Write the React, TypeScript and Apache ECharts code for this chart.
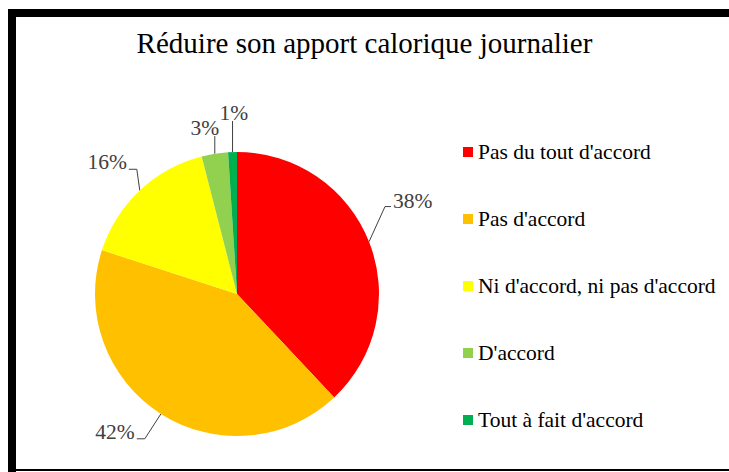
import React, { useEffect, useRef } from "react";
import * as echarts from "echarts";

const titleText = "Réduire son apport calorique journalier";
const categories = [
  "Pas du tout d'accord",
  "Pas d'accord",
  "Ni d'accord, ni pas d'accord",
  "D'accord",
  "Tout à fait d'accord",
];
const values = [38, 42, 16, 3, 1];
const colors = ["#FF0000", "#FFC000", "#FFFF00", "#92D050", "#00B050"];

// label placement style: polar angle (deg, clockwise from top) and distance from pie centre
const labelAngle = [62, 221.5, 315.4, 349, 359];
const labelDist = [199, 184, 185, 169, 181];
const labelVertical = [false, false, false, true, true];

const CX = 237;
const CY = 294;
const R = 142;

export default function App() {
  const ref = useRef<HTMLDivElement>(null);
  useEffect(() => {
    if (!ref.current) return;
    const chart = echarts.init(ref.current, null, { renderer: "svg" });
    const font = "'Liberation Serif', 'Times New Roman', serif";
    const total = values.reduce((a, b) => a + b, 0);
    const mids: number[] = [];
    let acc = 0;
    values.forEach((v) => {
      mids.push(((acc + v / 2) / total) * 2 * Math.PI);
      acc += v;
    });
    chart.setOption({
      animation: false,
      backgroundColor: "#ffffff",
      title: {
        text: titleText,
        left: "center",
        top: 23,
        textStyle: { fontFamily: font, fontSize: 29, fontWeight: "normal", color: "#000000" },
      },
      legend: {
        orient: "vertical",
        left: 458,
        top: 135,
        itemWidth: 10,
        itemHeight: 10,
        itemGap: 43,
        icon: "rect",
        data: categories,
        textStyle: { fontFamily: font, fontSize: 21.5, lineHeight: 24, color: "#000000" },
      },
      graphic: [
        { type: "rect", shape: { x: 8, y: 9, width: 721, height: 8 }, style: { fill: "#000000" } },
        { type: "rect", shape: { x: 8, y: 9, width: 8, height: 463 }, style: { fill: "#000000" } },
        { type: "rect", shape: { x: 16, y: 469, width: 713, height: 2 }, style: { fill: "#000000" } },
      ],
      series: [
        {
          type: "pie",
          center: [CX, CY],
          radius: [0, R],
          startAngle: 90,
          clockwise: true,
          avoidLabelOverlap: false,
          data: categories.map((c, i) => ({ name: c, value: values[i], itemStyle: { color: colors[i] } })),
          label: {
            show: true,
            position: "outside",
            formatter: (p: any) => `${p.value}%`,
            fontFamily: font,
            fontSize: 21.5,
            color: "#404040",
          },
          labelLine: {
            show: true,
            length: 16,
            length2: 10,
            lineStyle: { color: "#404040", width: 1 },
          },
          labelLayout: (params: any) => {
            const i = params.dataIndex;
            const a = (labelAngle[i] * Math.PI) / 180;
            const lx = CX + labelDist[i] * Math.sin(a);
            const ly = CY - labelDist[i] * Math.cos(a);
            const ex = CX + R * Math.sin(mids[i]);
            const ey = CY - R * Math.cos(mids[i]);
            const w = params.labelRect.width;
            const h = params.labelRect.height;
            let pts: number[][];
            if (labelVertical[i]) {
              const by = ly + h / 2 - 3;
              pts = [[ex, ey], [ex, by], [ex, by]];
            } else if (lx > ex) {
              const yy = ly + 6;
              pts = [[ex, ey], [lx - w / 2 - 8, yy], [lx - w / 2 - 2, yy]];
            } else {
              const yy = ly + 7;
              pts = [[ex, ey], [lx + w / 2 + 10, yy], [lx + w / 2 + 2, yy]];
            }
            return { x: lx, y: ly, align: "center", verticalAlign: "middle", labelLinePoints: pts };
          },
        },
      ],
    });
    return () => chart.dispose();
  }, []);
  return (
    <div
      ref={ref}
      style={{ position: "fixed", left: 0, top: 0, width: 729, height: 472 }}
    />
  );
}
